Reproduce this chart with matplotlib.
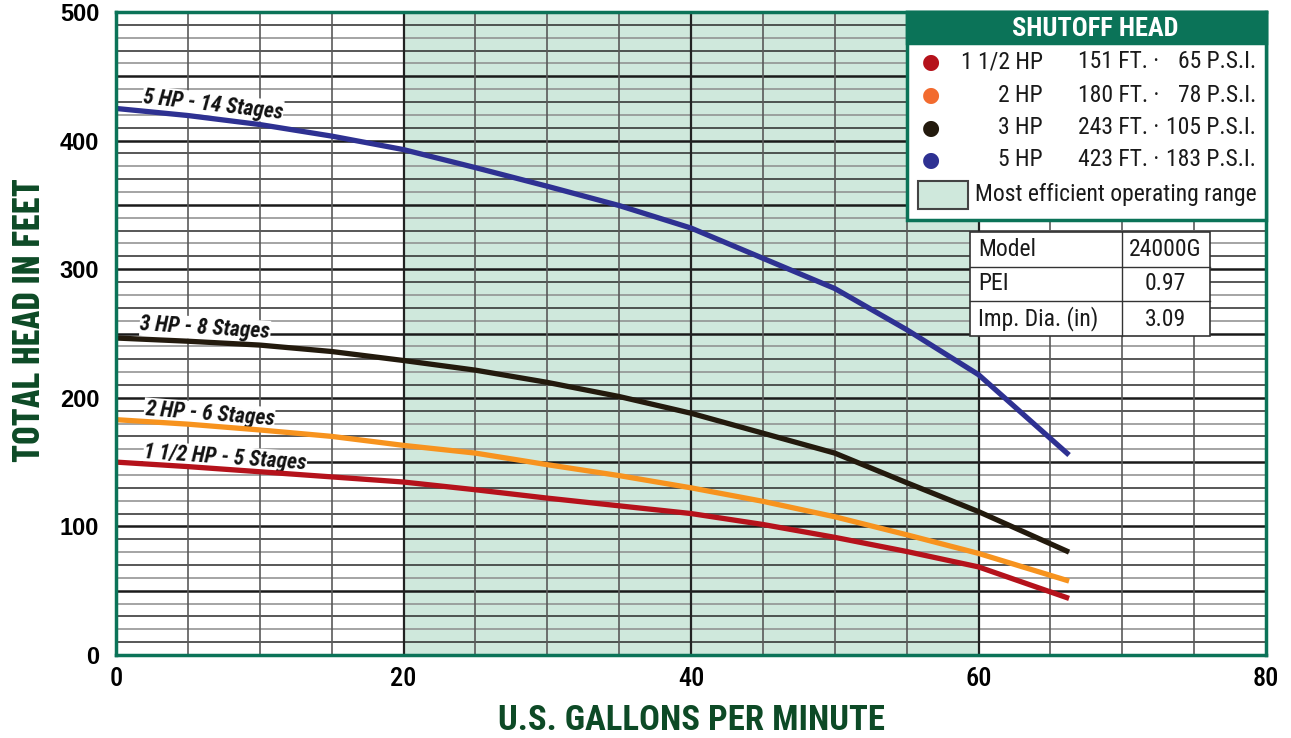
import numpy as np
import matplotlib
matplotlib.use("Agg")
import matplotlib.pyplot as plt
from matplotlib import font_manager
from matplotlib.patches import Rectangle

# pump curves (gpm -> total head, ft)
gpm = [0, 5, 10, 15, 20, 25, 30, 35, 40, 45, 50, 55, 60, 66.3]
head_15hp = [150, 146.5, 142.5, 138.5, 134.5, 128.5, 122, 116, 110, 101.5, 91.5, 80.5, 68.5, 44]
head_2hp = [183, 179.5, 175, 170, 163, 157, 148, 139.5, 130, 119.5, 107.5, 93.5, 79, 57.5]
head_3hp = [246.5, 244, 241, 236, 229, 221.5, 212, 201, 188, 172.5, 157, 134, 111.5, 80]
head_5hp = [425, 419.5, 412.5, 403.5, 393, 379, 364.5, 349.5, 332, 308.5, 285, 253, 218, 155.5]

curve_labels = ["1 1/2 HP - 5 Stages", "2 HP - 6 Stages", "3 HP - 8 Stages", "5 HP - 14 Stages"]
legend_hp = ["1 1/2 HP", "2 HP", "3 HP", "5 HP"]
legend_ft = ["151 FT. \u00b7", "180 FT. \u00b7", "243 FT. \u00b7", "423 FT. \u00b7"]
legend_psi = ["65 P.S.I.", "78 P.S.I.", "105 P.S.I.", "183 P.S.I."]
table_keys = ["Model", "PEI", "Imp. Dia. (in)"]
table_vals = ["24000G", "0.97", "3.09"]

line_colors = ["#b5121b", "#f7931e", "#231a0d", "#2e3192"]
dot_colors = ["#b5121b", "#f26b2f", "#231a0d", "#2e3192"]
green = "#0b7358"
dark_green = "#0d4a26"
shade = "#cfe8dc"


def pick_font(names):
    have = {f.name for f in font_manager.fontManager.ttflist}
    for n in names:
        if n in have:
            return n
    return "DejaVu Sans"


narrow = pick_font(["Roboto Condensed", "Barlow Condensed", "Archivo Narrow", "PT Sans Narrow",
                    "IBM Plex Sans Condensed", "Open Sans Condensed"])
heavy = pick_font(["Barlow Condensed", "Roboto Condensed", "Oswald", "IBM Plex Sans Condensed",
                   "Open Sans Condensed"])

W, H = 1291, 738
fig = plt.figure(figsize=(W / 100, H / 100), dpi=100)


def px(x, y):
    return x / W, 1 - y / H


ax = fig.add_axes([116 / W, 1 - 655 / H, (1266 - 116) / W, (655 - 12) / H])
ax.set_xlim(0, 80)
ax.set_ylim(0, 500)

# efficient range shading
ax.axvspan(20, 60, color=shade, zorder=0, lw=0)

# grid
for i, y in enumerate(np.arange(10, 500, 10)):
    if y % 50 == 0:
        ax.axhline(y, color="#1a1a1a", lw=1.8, zorder=1)
    else:
        ax.axhline(y, color="#2a2a2a" if i % 2 == 0 else "#8c8c8c", lw=1.1, zorder=1)
for x in np.arange(5, 80, 5):
    if x % 20 == 0:
        ax.axvline(x, color="#222222", lw=1.6, zorder=1)
    else:
        ax.axvline(x, color="#5a5a5a", lw=1.2, zorder=1)

for heads, c in zip([head_15hp, head_2hp, head_3hp, head_5hp], line_colors):
    ax.plot(gpm, heads, color=c, lw=3.8, zorder=3, solid_capstyle="butt")

# curve labels (under the lines, over the grid)
label_pos = [(7.6, 153.5, -4), (6.5, 187.5, -4.5), (6.2, 254, -3.5), (6.75, 428, -6.5)]
for txt, (x, y, rot) in zip(curve_labels, label_pos):
    ax.text(x, y, txt, fontsize=15.5, fontweight="bold", family=narrow, style="italic",
            rotation=rot, ha="center", va="center", zorder=2.5, color="#111111",
            rotation_mode="anchor",
            bbox=dict(boxstyle="square,pad=0.02", fc="white", ec="none"))

for side in ax.spines.values():
    side.set_color(green)
    side.set_linewidth(2.5)
    side.set_zorder(6)

ax.set_xticks([0, 20, 40, 60, 80])
ax.set_yticks([0, 100, 200, 300, 400, 500])
ax.tick_params(axis="y", length=0, pad=12)
ax.tick_params(axis="x", length=0, pad=9)
for lab in ax.get_yticklabels():
    lab.set_fontsize(17)
    lab.set_fontweight("bold")
    lab.set_family("Liberation Sans")
for lab in ax.get_xticklabels():
    lab.set_fontsize(19)
    lab.set_fontweight("medium")
    lab.set_family(narrow)

fig.text(*px(30, 320), "TOTAL HEAD IN FEET", rotation=90, ha="center", va="center",
         fontsize=28, fontweight="bold", family=heavy, color=dark_green)
fig.text(*px(691, 720), "U.S. GALLONS PER MINUTE", ha="center", va="center",
         fontsize=25, fontweight="bold", family=narrow, color=dark_green)

# shutoff head legend box
x0, y0 = px(907, 220)
x1, y1 = px(1266, 12)
fig.patches.append(Rectangle((x0, y0), x1 - x0, y1 - y0, transform=fig.transFigure,
                             fc="white", ec=green, lw=2.5, zorder=5))
hx0, hy0 = px(907, 43)
fig.patches.append(Rectangle((hx0, hy0), x1 - hx0, y1 - hy0, transform=fig.transFigure,
                             fc=green, ec=green, lw=2.5, zorder=5))
fig.text(*px(1095, 29), "SHUTOFF HEAD", ha="center", va="center", color="white",
         fontsize=19, fontweight="bold", family=narrow, zorder=6)
row_y = [62, 95, 128, 160]
for i, yy in enumerate(row_y):
    fig.text(*px(931, yy), "\u25cf", ha="center", va="center", color=dot_colors[i],
             fontsize=15, zorder=6)
    fig.text(*px(1043, yy), legend_hp[i], ha="right", va="center", fontsize=17,
             family=narrow, zorder=6, color="#1a1a1a")
    fig.text(*px(1159, yy), legend_ft[i], ha="right", va="center", fontsize=17,
             family=narrow, zorder=6, color="#1a1a1a")
    fig.text(*px(1256, yy), legend_psi[i], ha="right", va="center", fontsize=17,
             family=narrow, zorder=6, color="#1a1a1a")
sx0, sy0 = px(918, 209)
sx1, sy1 = px(968, 181)
fig.patches.append(Rectangle((sx0, sy0), sx1 - sx0, sy1 - sy0, transform=fig.transFigure,
                             fc=shade, ec="#444444", lw=1.5, zorder=6))
fig.text(*px(975, 195), "Most efficient operating range", ha="left", va="center",
         fontsize=17, family=narrow, zorder=6, color="#1a1a1a")

# model table
tx0, ty0 = px(970, 336)
tx1, ty1 = px(1210, 232)
fig.patches.append(Rectangle((tx0, ty0), tx1 - tx0, ty1 - ty0, transform=fig.transFigure,
                             fc="white", ec="#333333", lw=1.2, zorder=5))
for yy in [267, 301]:
    fig.add_artist(plt.Line2D([tx0, tx1], [px(0, yy)[1]] * 2, transform=fig.transFigure,
                              color="#333333", lw=1.0, zorder=6))
fig.add_artist(plt.Line2D([px(1122, 0)[0]] * 2, [ty0, ty1], transform=fig.transFigure,
                          color="#333333", lw=1.0, zorder=6))
for i, yy in enumerate([250, 284, 319]):
    fig.text(*px(978, yy), table_keys[i], ha="left", va="center", fontsize=17,
             family=narrow, zorder=7, color="#1a1a1a")
    fig.text(*px(1165, yy), table_vals[i], ha="center", va="center", fontsize=17,
             family=narrow, zorder=7, color="#1a1a1a")

fig.savefig("out.png", dpi=100)
